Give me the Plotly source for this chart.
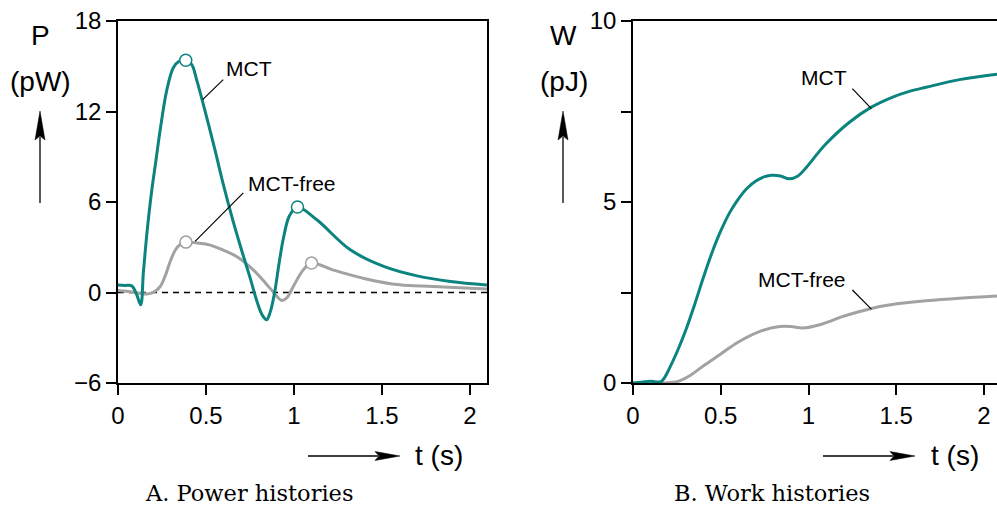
import plotly.graph_objects as go

# ---- data -------------------------------------------------------------
# Power histories (pW)
t_p_mct = [0, 0.04, 0.078, 0.105, 0.129, 0.144, 0.165, 0.19, 0.215, 0.24, 0.277,
           0.314, 0.343, 0.385, 0.419, 0.447, 0.5, 0.55, 0.6, 0.65, 0.7, 0.75,
           0.79, 0.82, 0.845, 0.865, 0.89, 0.915, 0.94, 0.975, 1.02, 1.13, 1.32,
           1.51, 1.70, 1.89, 2.097]
p_mct = [0.5, 0.47, 0.44, -0.1, -0.82, 1.3, 4.0, 6.6, 8.7, 10.8, 13.4,
         14.9, 15.3, 15.4, 15.1, 14.1, 11.8, 9.5, 7.1, 4.9, 2.9, 1.0,
         -0.6, -1.5, -1.8, -1.3, 0.0, 1.9, 3.6, 5.1, 5.67, 4.82, 2.83,
         1.73, 1.1, 0.73, 0.5]

t_p_free = [0, 0.08, 0.12, 0.163, 0.2, 0.24, 0.27, 0.295, 0.325, 0.355, 0.386,
            0.45, 0.52, 0.6, 0.674, 0.73, 0.788, 0.84, 0.88, 0.93, 0.96, 0.996,
            1.053, 1.10, 1.22, 1.41, 1.60, 1.79, 2.097]
p_free = [0.13, 0.03, -0.05, -0.1, 0.0, 0.4, 1.15, 2.0, 2.8, 3.2, 3.34,
          3.28, 3.16, 2.8, 2.39, 1.9, 1.28, 0.6, 0.07, -0.53, -0.35, 0.4,
          1.5, 1.95, 1.5, 0.9, 0.51, 0.4, 0.24]

# Peak markers on the power curves
peak_t_mct = [0.385, 1.02]
peak_p_mct = [15.4, 5.67]
peak_t_free = [0.386, 1.10]
peak_p_free = [3.34, 1.95]

# Work histories (pJ)
t_w_mct = [0, 0.05, 0.095, 0.13, 0.16, 0.18, 0.2, 0.25, 0.3, 0.35, 0.4, 0.45,
           0.5, 0.55, 0.6, 0.65, 0.7, 0.75, 0.79, 0.84, 0.89, 0.94, 0.99, 1.05,
           1.10, 1.235, 1.358, 1.48, 1.57, 1.67, 1.86, 2.074]
w_mct = [0, 0.02, 0.05, 0.03, 0.04, 0.15, 0.33, 0.85, 1.45, 2.15, 2.9, 3.6,
         4.2, 4.7, 5.08, 5.38, 5.58, 5.7, 5.74, 5.72, 5.64, 5.72, 5.97, 6.33,
         6.61, 7.21, 7.62, 7.9, 8.05, 8.17, 8.38, 8.53]

t_w_free = [0, 0.15, 0.20, 0.266, 0.33, 0.40, 0.50, 0.589, 0.72, 0.836, 0.90,
            0.969, 1.064, 1.197, 1.28, 1.358, 1.44, 1.53, 1.67, 1.86, 2.074]
w_free = [0, 0, 0.01, 0.06, 0.22, 0.47, 0.8, 1.1, 1.42, 1.56, 1.56,
          1.52, 1.61, 1.84, 1.96, 2.06, 2.14, 2.2, 2.27, 2.34, 2.4]

x_ticks = [0, 0.5, 1, 1.5, 2]
x_ticktext = ["0", "0.5", "1", "1.5", "2"]
p_ticks = [-6, 0, 6, 12, 18]
p_ticktext = ["\u22126", "0", "6", "12", "18"]
w_ticks = [0, 2.5, 5, 7.5, 10]
w_ticktext = ["0", "", "5", "", "10"]

# ---- style ------------------------------------------------------------
TEAL = "#0b847f"
GRAY = "#a2a2a2"
SANS = "Liberation Sans, Arial, Helvetica, sans-serif"
SERIF = "DejaVu Serif, Liberation Serif, serif"
W_PX, H_PX = 997, 508


def px(x, y):
    """Pixel position -> paper coordinates."""
    return x / W_PX, 1 - y / H_PX


fig = go.Figure()

line_kw = dict(shape="spline", smoothing=1.0, width=3)
fig.add_trace(go.Scatter(x=t_p_free, y=p_free, mode="lines",
                         line=dict(color=GRAY, **line_kw), xaxis="x", yaxis="y"))
fig.add_trace(go.Scatter(x=t_p_mct, y=p_mct, mode="lines",
                         line=dict(color=TEAL, **line_kw), xaxis="x", yaxis="y"))
fig.add_trace(go.Scatter(x=peak_t_free, y=peak_p_free, mode="markers",
                         marker=dict(size=12, color="white", line=dict(color=GRAY, width=1.5)),
                         xaxis="x", yaxis="y"))
fig.add_trace(go.Scatter(x=peak_t_mct, y=peak_p_mct, mode="markers",
                         marker=dict(size=12, color="white", line=dict(color=TEAL, width=1.5)),
                         xaxis="x", yaxis="y"))
fig.add_trace(go.Scatter(x=t_w_free, y=w_free, mode="lines",
                         line=dict(color=GRAY, **line_kw), xaxis="x2", yaxis="y2"))
fig.add_trace(go.Scatter(x=t_w_mct, y=w_mct, mode="lines",
                         line=dict(color=TEAL, **line_kw), xaxis="x2", yaxis="y2"))

axis_common = dict(showgrid=False, zeroline=False, showline=True, linecolor="black",
                   linewidth=1.5, ticks="outside", ticklen=10, tickwidth=1.5,
                   tickcolor="black", automargin=False,
                   tickfont=dict(family=SANS, size=24, color="black"))

fig.update_layout(
    width=W_PX, height=H_PX, margin=dict(l=0, r=0, t=0, b=0),
    paper_bgcolor="white", plot_bgcolor="white", showlegend=False,
    xaxis=dict(domain=[118 / W_PX, 487 / W_PX], range=[0, 2.097], anchor="y",
               tickvals=x_ticks, ticktext=x_ticktext, mirror=True, **axis_common),
    yaxis=dict(domain=[1 - 383 / H_PX, 1 - 21 / H_PX], range=[-6, 18], anchor="x",
               tickvals=p_ticks, ticktext=p_ticktext, mirror=True, **axis_common),
    xaxis2=dict(domain=[633 / W_PX, 1.0], range=[0, 2.074], anchor="y2",
                tickvals=x_ticks, ticktext=x_ticktext, mirror=True, **axis_common),
    yaxis2=dict(domain=[1 - 383 / H_PX, 1 - 21 / H_PX], range=[0, 10], anchor="x2",
                tickvals=w_ticks, ticktext=w_ticktext, mirror=False, **axis_common),
)

# dashed zero line in the power panel
fig.add_shape(type="line", xref="x", yref="y", x0=0, x1=2.097, y0=0, y1=0,
              line=dict(color="black", width=1.5, dash="6px,5px"), layer="below")

# leader lines from curve labels
leaders = [
    ("x", "y", 0.598, 14.11, 0.481, 12.79),
    ("x", "y", 0.712, 6.6, 0.438, 3.39),
    ("x2", "y2", 1.25, 8.13, 1.358, 7.58),
    ("x2", "y2", 1.25, 2.57, 1.358, 2.04),
]
for xr, yr, x0, y0, x1, y1 in leaders:
    fig.add_shape(type="line", xref=xr, yref=yr, x0=x0, y0=y0, x1=x1, y1=y1,
                  line=dict(color="black", width=1.2))

# curve labels
labels = [
    ("MCT", 249, 69),
    ("MCT-free", 292, 183),
    ("MCT", 824, 78),
    ("MCT-free", 802, 279),
]
for txt, x, y in labels:
    xp, yp = px(x, y)
    fig.add_annotation(text=txt, x=xp, y=yp, xref="paper", yref="paper",
                       showarrow=False, xanchor="center", yanchor="middle",
                       font=dict(family=SANS, size=21, color="black"))

# axis titles
titles = [
    ("P", 40, 36), ("(pW)", 40, 82),
    ("W", 563, 36), ("(pJ)", 564, 82),
    ("t (s)", 439, 455), ("t (s)", 955, 455),
]
for txt, x, y in titles:
    xp, yp = px(x, y)
    fig.add_annotation(text=txt, x=xp, y=yp, xref="paper", yref="paper",
                       showarrow=False, xanchor="center", yanchor="middle",
                       font=dict(family=SANS, size=28, color="black"))

# captions
for txt, x in [("A. Power histories", 249), ("B. Work histories", 772)]:
    xp, yp = px(x, 493)
    fig.add_annotation(text=txt, x=xp, y=yp, xref="paper", yref="paper",
                       showarrow=False, xanchor="center", yanchor="middle",
                       font=dict(family=SERIF, size=22.5, color="black"))


# direction arrows next to the axis titles
def arrow_up(x, y_tail, y_tip):
    x0, y0 = px(x, y_tail)
    x1, y1 = px(x, y_tip + 26)
    fig.add_shape(type="line", xref="paper", yref="paper", x0=x0, y0=y0, x1=x1, y1=y1,
                  line=dict(color="black", width=1.3))
    pts = [px(x, y_tip), px(x - 5, y_tip + 29), px(x, y_tip + 25), px(x + 5, y_tip + 29)]
    path = "M " + " L ".join(f"{a},{b}" for a, b in pts) + " Z"
    fig.add_shape(type="path", xref="paper", yref="paper", path=path,
                  fillcolor="black", line=dict(color="black", width=0.5))


def arrow_right(x_tail, x_tip, y):
    x0, y0 = px(x_tail, y)
    x1, y1 = px(x_tip - 22, y)
    fig.add_shape(type="line", xref="paper", yref="paper", x0=x0, y0=y0, x1=x1, y1=y1,
                  line=dict(color="black", width=1.3))
    pts = [px(x_tip, y), px(x_tip - 25, y - 4.5), px(x_tip - 21, y), px(x_tip - 25, y + 4.5)]
    path = "M " + " L ".join(f"{a},{b}" for a, b in pts) + " Z"
    fig.add_shape(type="path", xref="paper", yref="paper", path=path,
                  fillcolor="black", line=dict(color="black", width=0.5))


arrow_up(40, 203, 111)
arrow_up(563, 203, 111)
arrow_right(308, 400, 456)
arrow_right(823, 915, 456)

fig.write_html("out.html")
